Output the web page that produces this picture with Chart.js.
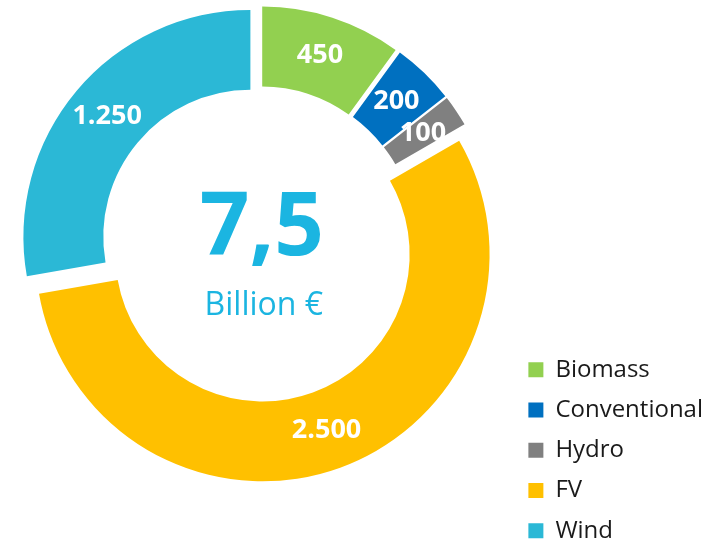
<!DOCTYPE html>
<html>
<head>
<meta charset="utf-8">
<title>Investment by source</title>
<script src="https://cdn.jsdelivr.net/npm/chart.js@4.4.1/dist/chart.umd.min.js"></script>
<style>
    html, body { margin: 0; padding: 0; background: #ffffff; }
    #frame { position: relative; width: 725px; height: 543px; overflow: hidden; }
    /* the canvas runs past the frame so the ring sits high and the legend sits low */
    #wrap { position: absolute; left: 0; top: -71px; width: 725px; height: 630px; }
</style>
</head>
<body>
<div id="frame"><div id="wrap"><canvas id="investChart"></canvas></div></div>
<script>
// Data
const sources = ['Biomass', 'Conventional', 'Hydro', 'FV', 'Wind'];
const amounts = [450, 200, 100, 2500, 1250];
const sourceColors = ['#92d050', '#0070c0', '#808080', '#ffc000', '#2bb8d6'];
const totalValue = '7,5';
const totalUnit = 'Billion €';

const FONT = "'Open Sans', 'Noto Sans', sans-serif";

// 1250 -> "1.250"
function formatAmount(v) {
    return String(v).replace(/\B(?=(\d{3})+(?!\d))/g, '.');
}

// Push every slice outward along its middle angle
const explodePlugin = {
    id: 'explode',
    afterDatasetsUpdate(chart, args, opts) {
        chart.getDatasetMeta(0).data.forEach(arc => {
            const mid = (arc.startAngle + arc.endAngle) / 2;
            arc.x += Math.cos(mid) * opts.distance;
            arc.y += Math.sin(mid) * opts.distance;
        });
    }
};

// Value labels inside each slice
const sliceLabelPlugin = {
    id: 'sliceLabels',
    afterDatasetsDraw(chart) {
        const ctx = chart.ctx;
        const meta = chart.getDatasetMeta(0);
        ctx.save();
        ctx.font = 'bold 27px ' + FONT;
        ctx.fillStyle = '#ffffff';
        ctx.textAlign = 'center';
        ctx.textBaseline = 'middle';
        meta.data.forEach((arc, i) => {
            const p = arc.getCenterPoint();
            ctx.fillText(formatAmount(amounts[i]), p.x, p.y);
        });
        ctx.restore();
    }
};

// Total in the hole
const centerTextPlugin = {
    id: 'centerText',
    afterDraw(chart) {
        const ctx = chart.ctx;
        const area = chart.chartArea;
        const cx = (area.left + area.right) / 2 + 3;
        const cy = (area.top + area.bottom) / 2;
        ctx.save();
        ctx.textAlign = 'center';
        ctx.textBaseline = 'alphabetic';
        ctx.fillStyle = '#1bb5e1';
        ctx.font = 'bold 87px ' + FONT;
        ctx.fillText(totalValue, cx, cy + 11);
        ctx.font = '32px ' + FONT;
        ctx.fillText(totalUnit, cx + 2, cy + 71);
        ctx.restore();
    }
};

new Chart(document.getElementById('investChart'), {
    type: 'doughnut',
    data: {
        labels: sources,
        datasets: [{
            data: amounts,
            backgroundColor: sourceColors,
            borderWidth: 0
        }]
    },
    options: {
        responsive: true,
        maintainAspectRatio: false,
        animation: false,
        events: [],
        radius: 227,
        cutout: '64.8%',
        layout: {
            padding: { left: 5.5, right: 12, top: 0, bottom: 0 }
        },
        plugins: {
            explode: { distance: 11 },
            tooltip: { enabled: false },
            legend: {
                display: true,
                position: 'right',
                align: 'end',
                labels: {
                    boxWidth: 15,
                    boxHeight: 15,
                    padding: 16.25,
                    color: '#1a1a1a',
                    font: { family: FONT, size: 24 }
                }
            }
        }
    },
    plugins: [explodePlugin, sliceLabelPlugin, centerTextPlugin]
});
</script>
</body>
</html>
